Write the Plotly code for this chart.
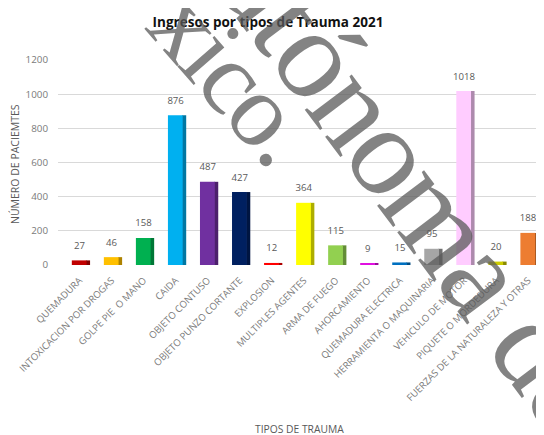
import math
import plotly.graph_objects as go

categories = ["QUEMADURA", "INTOXICACION POR DROGAS", "GOLPE PIE  O MANO", "CAIDA",
              "OBJETO CONTUSO", "OBJETO PUNZO CORTANTE", "EXPLOSION", "MULTIPLES AGENTES",
              "ARMA DE FUEGO", "AHORCAMIENTO", "QUEMADURA ELECTRICA",
              "HERRAMIENTA O MAQUINARIA", "VEHICULO DE MOTOR", "PIQUETE O MORDEDURA",
              "FUERZAS DE LA NATURALEZA Y OTRAS"]
values = [27, 46, 158, 876, 487, 427, 12, 364, 115, 9, 15, 95, 1018, 20, 188]
colors = ["#C00000", "#FFC000", "#00B050", "#00B0F0", "#7030A0", "#002060", "#FF0000",
          "#FFFF00", "#92D050", "#E010E0", "#0070C0", "#A6A6A6", "#FFCCFF", "#CCCC00",
          "#ED7D31"]
y_ticks = [0, 200, 400, 600, 800, 1000, 1200]

watermark_1 = "xico."
watermark_2 = "Autónoma de"


def darker(hx, f=0.68):
    r, g, b = int(hx[1:3], 16), int(hx[3:5], 16), int(hx[5:7], 16)
    return "rgb(%d,%d,%d)" % (r * f, g * f, b * f)


side_colors = [darker(c) for c in colors]

# page body has an 8px margin: work in reference pixels and shift
SH = 8
FW, FH = 544 - SH, 435 - SH
L, R, T, B = 58 - SH, 544 - SH, 60 - SH, 265 - SH
W, H = R - L, B - T


def px(x):
    return (x - SH - L) / W


def py(y):
    return (B - (y - SH)) / H


fig = go.Figure()
fig.add_trace(go.Bar(x=categories, y=values, marker=dict(color=side_colors, line=dict(width=0)),
                     width=0.13, offset=0.2, hoverinfo="skip", showlegend=False))
fig.add_trace(go.Bar(x=categories, y=values, marker=dict(color=colors, line=dict(width=0)),
                     width=0.46, offset=-0.24, showlegend=False))
fig.add_trace(go.Scatter(x=categories, y=values, mode="markers+text",
                         text=[str(v) for v in values], textposition="top center",
                         marker=dict(size=13, opacity=0), cliponaxis=False,
                         textfont=dict(family="Open Sans", size=9.6, color="#595959"),
                         hoverinfo="skip", showlegend=False))

gray = "#595959"
fig.update_layout(
    width=FW, height=FH,
    margin=dict(l=L, r=FW - R, t=T, b=FH - B),
    paper_bgcolor="white", plot_bgcolor="white",
    barmode="overlay",
    title=dict(text="<b>Ingresos por tipos de Trauma 2021</b>", x=(268 - SH) / FW,
               xanchor="center", y=1 - (22 - SH) / FH, yanchor="middle",
               font=dict(family="Open Sans", size=13.5, color="#111111")),
    xaxis=dict(range=[-0.671, 14.497], tickangle=-45, showgrid=False, zeroline=False,
               showline=False, ticks="", ticklabelstandoff=7,
               tickfont=dict(family="Open Sans", size=9.6, color="#7a7a7a")),
    yaxis=dict(range=[0, 1200], tickvals=y_ticks, showgrid=True, gridcolor="#D9D9D9",
               gridwidth=1, zeroline=False, showline=False, ticks="",
               ticklabelstandoff=9,
               tickfont=dict(family="Open Sans", size=9.8, color="#7a7a7a")),
    font=dict(family="Open Sans"),
)

annotations = [
    dict(text="NÚMERO DE PACIEMTES", x=px(15), y=py(164), xref="paper", yref="paper",
         textangle=-90, showarrow=False, xanchor="center", yanchor="middle",
         font=dict(family="Open Sans", size=10.5, color=gray)),
    dict(text="TIPOS DE TRAUMA", x=px(299), y=py(429), xref="paper", yref="paper",
         showarrow=False, xanchor="center", yanchor="middle",
         font=dict(family="Open Sans", size=10.3, color=gray)),
]

# watermark, letter by letter (Times advance widths, em units)
adv = {"x": .5, "i": .278, "c": .444, "o": .5, ".": .25, "A": .722, "u": .5, "t": .278,
       "ó": .5, "n": .5, "m": .778, "a": .444, " ": .25, "d": .5, "e": .444}
wm_color = "rgba(90,90,90,0.75)"


def watermark(text, anchor_idx, ax, ay, angle, spacing, size):
    centers, acc = [], 0.0
    for ch in text:
        centers.append(acc + adv[ch] / 2)
        acc += adv[ch]
    c0 = centers[anchor_idx]
    ca, sa = math.cos(math.radians(angle)), math.sin(math.radians(angle))
    for ch, c in zip(text, centers):
        if ch == " ":
            continue
        d = (c - c0) * spacing
        annotations.append(dict(text=ch, x=px(ax + d * ca), y=py(ay + d * sa),
                                xref="paper", yref="paper", textangle=angle,
                                showarrow=False, xanchor="center", yanchor="middle",
                                font=dict(family="Liberation Serif", size=size,
                                          color=wm_color)))


watermark(watermark_1, 0, 188, 24, 49, 96, 104)
watermark(watermark_2, 3, 320, 58, 53, 122, 128)

fig.update_layout(annotations=annotations)

fig.write_html("out.html")
